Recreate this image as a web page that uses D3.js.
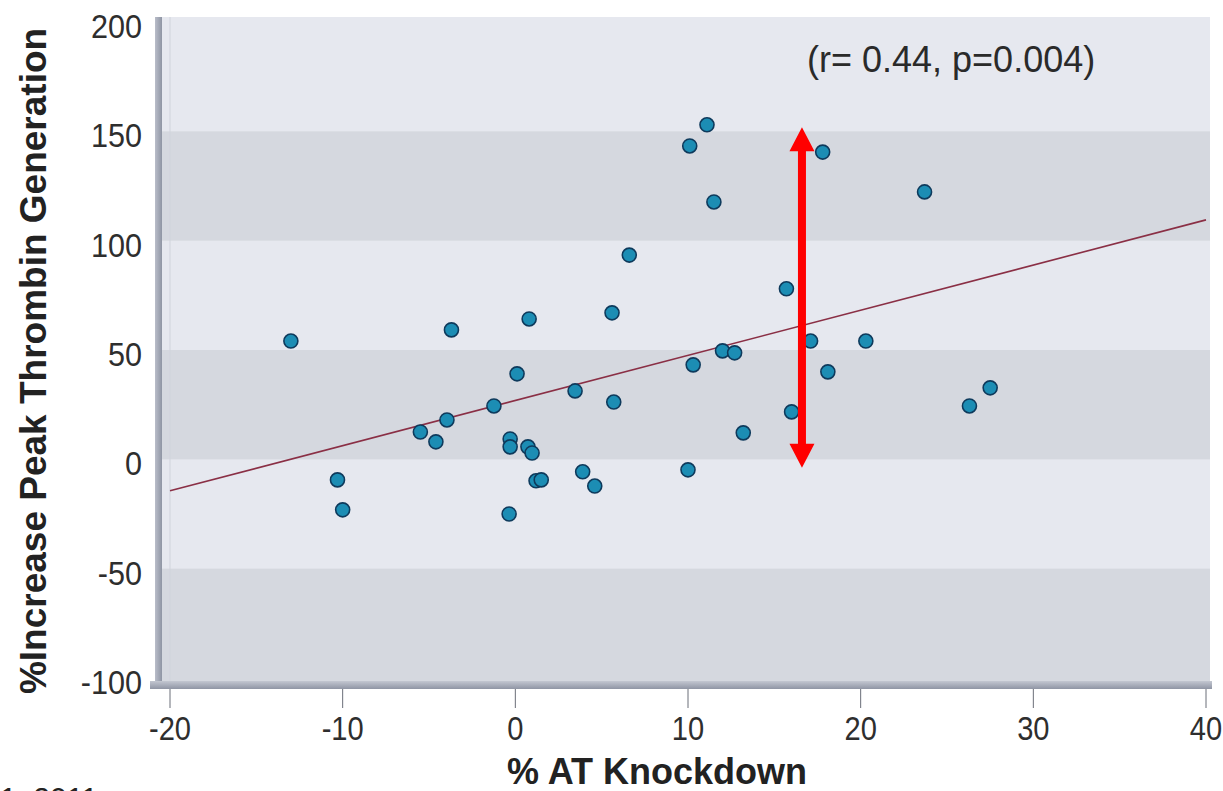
<!DOCTYPE html>
<html>
<head>
<meta charset="utf-8">
<script src="https://cdn.jsdelivr.net/npm/d3@7"></script>
<style>
  html, body { margin: 0; padding: 0; background: #ffffff; }
  svg { display: block; }
  text { font-family: "Liberation Sans", Arial, sans-serif; }
</style>
</head>
<body>
<svg id="chart" width="1223" height="791"></svg>
<script>
// % AT knockdown (x) vs % increase in peak thrombin generation (y), one entry per subject
const atKnockdown = [
  -13.0, -10.3, -10.0, -5.5, -4.6, -3.96, -3.7, -1.24, -0.36, -0.3,
  -0.3, 0.1, 0.73, 0.8, 0.97, 1.2, 1.5, 3.46, 3.9, 4.6,
  5.6, 5.7, 6.6, 10.1, 10.0, 10.3, 11.1, 11.5, 12.0, 12.7,
  13.2, 15.7, 16.0, 17.1, 17.8, 18.1, 20.3, 23.7, 26.3, 27.5
];
const thrombinIncrease = [
  54.1, -9.4, -23.1, 12.5, 8.0, 18.0, 59.2, 24.4, -25.0, 9.3,
  5.7, 39.1, 5.7, 64.2, 2.9, -9.8, -9.4, 31.3, -5.7, -12.2,
  67.0, 26.2, 93.4, 143.3, -4.8, 43.2, 153.0, 117.7, 49.6, 48.7,
  12.1, 78.0, 21.7, 54.1, 140.5, 40.0, 54.1, 122.3, 24.4, 32.7
];

// Fitted regression line, given by its two end points
const fitX = [-20, 40];
const fitY = [-14.4, 109.5];

// Double-headed arrow marking the spread of responses
const arrowX = 16.6;
const arrowRange = [151.9, -3.9];

// Axis ticks
const xTicks = [-20, -10, 0, 10, 20, 30, 40];
const yTicks = [-100, -50, 0, 50, 100, 150, 200];
// Shaded horizontal bands (lower, upper)
const bandEdges = [[-100, -50], [0, 50], [100, 150]];

const statsLabel = "(r= 0.44, p=0.004)";
const xTitle = "% AT Knockdown";
const yTitle = "%Increase Peak Thrombin Generation";
const footnote = "1, 2011";

const svg = d3.select("#chart");

const x = d3.scaleLinear().domain([-20, 40]).range([170, 1206]);
const y = d3.scaleLinear().domain([-100, 200]).range([678, 22]);

const plotLeft = 162, plotRight = 1210, plotTop = 17, plotBottom = 682;

// Plot background
svg.append("rect")
  .attr("x", plotLeft).attr("y", plotTop)
  .attr("width", plotRight - plotLeft).attr("height", plotBottom - plotTop)
  .attr("fill", "#e6e8ef");

// Alternating darker bands; the lowest one runs down to the floor
svg.append("g").selectAll("rect")
  .data(bandEdges)
  .join("rect")
  .attr("x", plotLeft)
  .attr("width", plotRight - plotLeft)
  .attr("y", d => y(d[1]))
  .attr("height", d => d[0] === -100 ? plotBottom - y(d[1]) : y(d[0]) - y(d[1]))
  .attr("fill", "#d5d8df");

// Faint inner edge at the first x tick
svg.append("line")
  .attr("x1", x(-20)).attr("x2", x(-20))
  .attr("y1", plotTop).attr("y2", plotBottom)
  .attr("stroke", "#d0d3dc").attr("stroke-width", 1);

// Left wall and floor of the frame
const defs = svg.append("defs");
const wallGrad = defs.append("linearGradient")
  .attr("id", "wall").attr("x1", 0).attr("x2", 1).attr("y1", 0).attr("y2", 0);
wallGrad.append("stop").attr("offset", 0).attr("stop-color", "#b9bdc9");
wallGrad.append("stop").attr("offset", 1).attr("stop-color", "#8f95a4");
const floorGrad = defs.append("linearGradient")
  .attr("id", "floor").attr("x1", 0).attr("x2", 0).attr("y1", 0).attr("y2", 1);
floorGrad.append("stop").attr("offset", 0).attr("stop-color", "#c3c7d1");
floorGrad.append("stop").attr("offset", 1).attr("stop-color", "#8f95a4");

svg.append("rect")
  .attr("x", 155).attr("y", plotTop)
  .attr("width", 7).attr("height", 688 - plotTop)
  .attr("fill", "url(#wall)");
svg.append("rect")
  .attr("x", 150).attr("y", 681)
  .attr("width", 1212 - 150).attr("height", 8)
  .attr("fill", "url(#floor)");

// X axis ticks and labels (labels slightly stretched vertically)
const xAxis = svg.append("g");
xAxis.selectAll("line")
  .data(xTicks)
  .join("line")
  .attr("x1", d => x(d)).attr("x2", d => x(d))
  .attr("y1", 689).attr("y2", 708)
  .attr("stroke", "#6a6e78").attr("stroke-width", 1);
xAxis.selectAll("text")
  .data(xTicks)
  .join("text")
  .attr("transform", d => `translate(${x(d)},740) scale(0.97,1.12)`)
  .attr("text-anchor", "middle")
  .attr("font-size", 30)
  .attr("fill", "#2e2e2e")
  .text(d => d);

// Y axis labels
svg.append("g").selectAll("text")
  .data(yTicks)
  .join("text")
  .attr("transform", d => `translate(142,${y(d) + 16}) scale(1.02,1.12)`)
  .attr("text-anchor", "end")
  .attr("font-size", 30)
  .attr("fill", "#2e2e2e")
  .text(d => d);

// Regression line
svg.append("line")
  .attr("x1", x(fitX[0])).attr("y1", y(fitY[0]))
  .attr("x2", x(fitX[1])).attr("y2", y(fitY[1]))
  .attr("stroke", "#8a2f45").attr("stroke-width", 1.6);

// Data points
svg.append("g").selectAll("circle")
  .data(atKnockdown.map((v, i) => [v, thrombinIncrease[i]]))
  .join("circle")
  .attr("cx", d => x(d[0]))
  .attr("cy", d => y(d[1]))
  .attr("r", 7)
  .attr("fill", "#1c8db4")
  .attr("stroke", "#0e3a5c")
  .attr("stroke-width", 1.6);

// Red double-headed arrow
const ax = x(arrowX);
const aTop = y(arrowRange[0]);
const aBot = y(arrowRange[1]);
const headW = 12.5, headH = 24, shaftW = 4;
svg.append("path")
  .attr("d", [
    `M${ax},${aTop}`,
    `L${ax + headW},${aTop + headH}`,
    `L${ax + shaftW},${aTop + headH}`,
    `L${ax + shaftW},${aBot - headH}`,
    `L${ax + headW},${aBot - headH}`,
    `L${ax},${aBot}`,
    `L${ax - headW},${aBot - headH}`,
    `L${ax - shaftW},${aBot - headH}`,
    `L${ax - shaftW},${aTop + headH}`,
    `L${ax - headW},${aTop + headH}`,
    "Z"
  ].join(""))
  .attr("fill", "#ff0000");

// Correlation note
svg.append("text")
  .attr("x", 807).attr("y", 72)
  .attr("font-size", 36)
  .attr("fill", "#2a2a2a")
  .text(statsLabel);

// Axis titles
svg.append("text")
  .attr("x", 657).attr("y", 784)
  .attr("text-anchor", "middle")
  .attr("font-size", 36)
  .attr("font-weight", "bold")
  .attr("fill", "#222")
  .text(xTitle);

svg.append("text")
  .attr("transform", "translate(46,361) rotate(-90)")
  .attr("text-anchor", "middle")
  .attr("font-size", 37)
  .attr("font-weight", "bold")
  .attr("fill", "#222")
  .text(yTitle);

// Source note at the bottom-left corner, running off the lower edge
svg.append("text")
  .attr("x", 0).attr("y", 808)
  .attr("font-size", 30)
  .attr("fill", "#222")
  .text(footnote);
</script>
</body>
</html>
